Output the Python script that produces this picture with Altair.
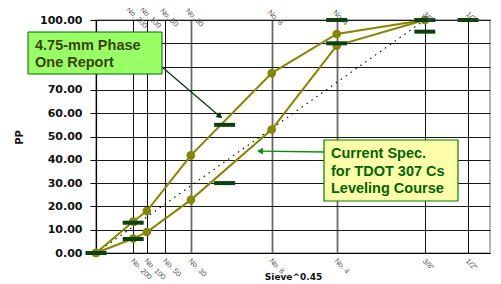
import math
import altair as alt
import pandas as pd

# ---------------- data ----------------
sieve_labels = ["No. 200", "No. 100", "No. 50", "No. 30", "No. 8", "No. 4", "3/8\"", "1/2\""]
sieve_mm = [0.075, 0.15, 0.3, 0.6, 2.36, 4.75, 9.5, 12.5]

line_mm = [0, 0.075, 0.15, 0.6, 2.36, 4.75, 9.5]
upper_pp = [0, 13.5, 18.0, 41.9, 77.2, 94.0, 100]
lower_pp = [0, 6.2, 9.0, 22.8, 53.0, 89.0, 100]

ctrl_mm = [0, 0.075, 0.075, 1.18, 1.18, 4.75, 4.75, 9.5, 9.5, 12.5]
ctrl_pp = [0, 6, 13, 30, 55, 90, 100, 95, 100, 100]

maxd_mm = [0, 9.5]
maxd_pp = [0, 100]

note1_lines = ["4.75-mm Phase", "One Report"]
note2_lines = ["Current Spec.", "for TDOT 307 Cs", "Leveling Course"]

# ---------------- layout ----------------
W, H = 394, 233
XMAX = 3.3
PX = W / XMAX
PY = H / 100.0


def p(mm):
    return mm ** 0.45


def dx(px):  # plot-relative pixel -> data x
    return px / PX


def dy(py):  # plot-relative pixel (from top) -> data y
    return 100 - py / PY


xs = alt.Scale(domain=[0, XMAX], nice=False, zero=False)
ys = alt.Scale(domain=[0, 100], nice=False)

sieve_pos = [p(m) for m in sieve_mm]

xaxis = alt.Axis(values=sieve_pos, grid=True, labels=False, ticks=False,
                 domain=True, domainColor="#000", domainWidth=1.2,
                 gridColor={"condition": {"test": "datum.value > 0.7 && datum.value < 2.1",
                                          "value": "#6a6a6a"}, "value": "#111"},
                 gridWidth={"condition": {"test": "datum.value > 0.7 && datum.value < 2.1",
                                          "value": 1.8}, "value": 1},
                 gridOpacity=1,
                 title="Sieve^0.45", titleFont="DejaVu Sans", titleFontWeight="bold",
                 titleFontSize=9, titleColor="#111", titleY=23, titleBaseline="middle")
yaxis = alt.Axis(values=list(range(0, 101, 10)), format=".2f", grid=True,
                 gridColor="#1a1a1a", gridWidth=1, gridOpacity=1,
                 labelFont="DejaVu Sans", labelFontWeight="bold", labelFontSize=11,
                 labelColor="#111", labelPadding=8, tickSize=6, tickColor="#000",
                 domainColor="#000", domainWidth=1.2,
                 title="PP", titleFont="DejaVu Sans", titleFontWeight="bold",
                 titleFontSize=10, titleColor="#111", titleAngle=270,
                 titleX=-77, titleY=117, titleAlign="center", titleBaseline="middle")

X = alt.X("x:Q", scale=xs, axis=xaxis)
Y = alt.Y("y:Q", scale=ys, axis=yaxis)

# grid layer
grid_df = pd.DataFrame({"x": sieve_pos, "y": [0] * len(sieve_pos)})
base = alt.Chart(grid_df).mark_point(opacity=0).encode(x=X, y=Y)

# max density dotted line
maxd_df = pd.DataFrame({"x": [p(m) for m in maxd_mm], "y": maxd_pp})
maxd = alt.Chart(maxd_df).mark_line(color="#000", strokeWidth=1.1, strokeDash=[1.5, 4.5]).encode(x=X, y=Y)

# gradation lines
rows = []
for name, vals in (("upper", upper_pp), ("lower", lower_pp)):
    for m, v in zip(line_mm, vals):
        rows.append({"x": p(m), "y": v, "s": name})
lines_df = pd.DataFrame(rows)
lines = alt.Chart(lines_df).mark_line(color="#868600", strokeWidth=2).encode(
    x=X, y=Y, detail="s:N")
pts = alt.Chart(lines_df).mark_circle(color="#868600", size=75, opacity=1).encode(x=X, y=Y)

# control points bars
ctrl_df = pd.DataFrame({"x": [p(m) for m in ctrl_mm], "y": ctrl_pp})
bars = alt.Chart(ctrl_df).mark_tick(orient="horizontal", size=21, thickness=4,
                                     color="#0d3f10", opacity=1).encode(x=X, y=Y)

# sieve labels (top and bottom)
lab_df = pd.DataFrame({"x": sieve_pos, "y": [0] * len(sieve_pos), "t": sieve_labels})
bot_labels = alt.Chart(lab_df).mark_text(angle=45, align="left", baseline="middle",
                                          font="Liberation Sans", fontSize=7.5, color="#555",
                                          dx=4, dy=6).encode(x=X, y=Y, text="t:N")
lab_top_df = pd.DataFrame({"x": sieve_pos, "y": [100] * len(sieve_pos), "t": sieve_labels})
top_labels = alt.Chart(lab_top_df).mark_text(angle=45, align="center", baseline="middle",
                                              font="Liberation Sans", fontSize=7.5, color="#555",
                                              dx=1, dy=-4).encode(x=X, y=Y, text="t:N")

# annotation 1 (plot-relative pixel positions converted to data)
ox, oy = 96, 20
box1 = pd.DataFrame({"x": [dx(28 - ox)], "x2": [dx(162 - ox)], "y": [dy(32 - oy)], "y2": [dy(74 - oy)]})
box1_m = alt.Chart(box1).mark_rect(fill="#99ff66", stroke="#006600", strokeWidth=1).encode(
    x=X, x2="x2:Q", y=Y, y2="y2:Q")
txt1 = pd.DataFrame({"x": [dx(35 - ox)] * 2, "y": [dy(50 - oy), dy(67 - oy)], "t": note1_lines})
txt1_m = alt.Chart(txt1).mark_text(align="left", baseline="alphabetic", font="Liberation Sans",
                                   fontWeight="bold", fontSize=14.5, color="#3a4200").encode(
    x=X, y=Y, text="t:N")

box2 = pd.DataFrame({"x": [dx(324 - ox)], "x2": [dx(458 - ox)], "y": [dy(140 - oy)], "y2": [dy(201 - oy)]})
box2_m = alt.Chart(box2).mark_rect(fill="#ffffaa", stroke="#008000", strokeWidth=1.2).encode(
    x=X, x2="x2:Q", y=Y, y2="y2:Q")
txt2 = pd.DataFrame({"x": [dx(331 - ox)] * 3,
                     "y": [dy(158 - oy), dy(176 - oy), dy(193 - oy)], "t": note2_lines})
txt2_m = alt.Chart(txt2).mark_text(align="left", baseline="alphabetic", font="Liberation Sans",
                                   fontWeight="bold", fontSize=14.5, color="#006400").encode(
    x=X, y=Y, text="t:N")


def arrow(x0, y0, x1, y1, color, shape_back=4):
    # page pixel coordinates -> arrow line + triangle head
    ang = math.atan2(y1 - y0, x1 - x0)
    hx = x1 - shape_back * math.cos(ang)
    hy = y1 - shape_back * math.sin(ang)
    ldf = pd.DataFrame({"x": [dx(x0 - ox), dx(hx - ox)], "y": [dy(y0 - oy), dy(hy - oy)]})
    line = alt.Chart(ldf).mark_line(color=color, strokeWidth=1.3).encode(x=X, y=Y)
    deg = math.degrees(ang) % 360
    hdf = pd.DataFrame({"x": [dx(hx - ox)], "y": [dy(hy - oy)]})
    head = alt.Chart(hdf).mark_point(shape="triangle-right", filled=True, size=45,
                                     color=color, opacity=1, angle=deg).encode(x=X, y=Y)
    return line + head


arr1 = arrow(162, 67, 223, 119, "#0a3a0a")
arr2 = arrow(324, 152, 256, 151, "#0a8a0a")

chart = alt.layer(
    base, maxd, lines, pts, bars, bot_labels, top_labels,
    arr1, box1_m, txt1_m, arr2, box2_m, txt2_m
).properties(
    width=W, height=H,
    padding={"left": 88, "top": 12, "right": 3, "bottom": 31},
    autosize=alt.AutoSizeParams(type="none"),
    background="white",
).configure_view(stroke="#b5b5b5", strokeWidth=2)

chart.save("out.html", embed_options={"renderer": "svg", "actions": False})
